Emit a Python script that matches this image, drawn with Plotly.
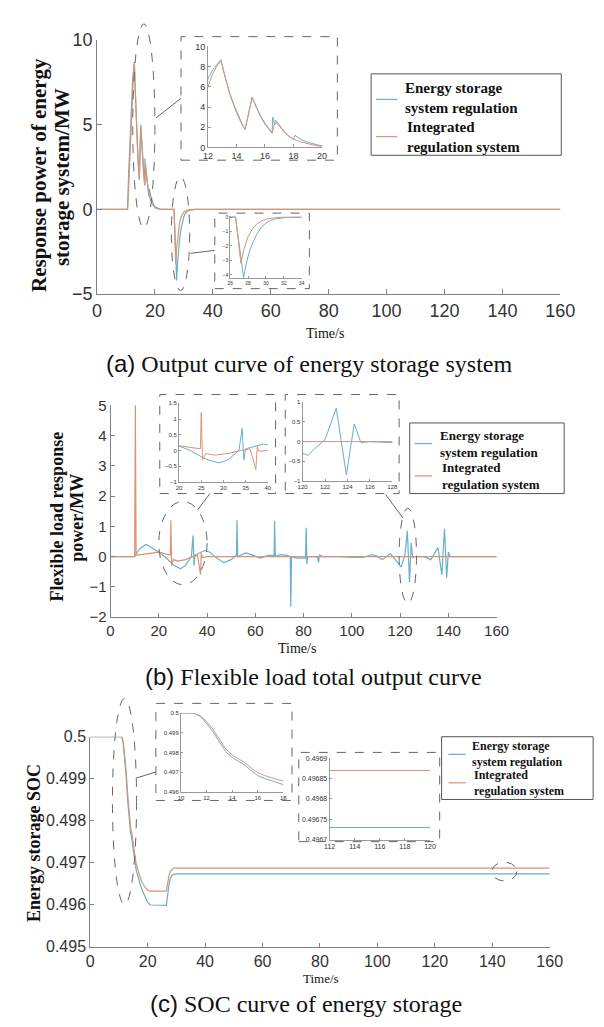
import plotly.graph_objects as go

W, H = 604, 1027
BLUE = "#66afd0"
ORANGE = "#d99470"
SANS = "Liberation Sans"
SERIF = "Liberation Serif"

# ---------------- data ----------------
# (a) energy storage response power (MW)
t_a_ess = [0, 10.5, 11.0, 11.5, 12.0, 12.3, 12.6, 12.9, 13.2, 13.5, 13.8, 14.1, 14.4, 14.6, 15.1, 15.4, 15.7,
           16.0, 16.3, 16.5, 16.55, 16.68, 16.8, 17.1, 17.4, 17.7, 18.0, 18.1, 18.5, 19.0, 19.5, 20.0, 21.0,
           22.0, 26.6, 27.5, 27.8, 28.1, 28.5, 29.0, 29.5, 30.0, 30.5, 31.0, 32.0, 33.0, 34.0, 160]
p_a_ess = [0, 0, 2.4, 4.7, 6.8, 7.6, 8.2, 8.7, 7.0, 5.5, 4.3, 3.2, 2.3, 1.75, 5.0, 4.0, 3.1,
           2.4, 1.8, 1.45, 3.0, 2.3, 2.45, 1.9, 1.45, 1.1, 0.8, 1.2, 0.8, 0.5, 0.3, 0.15, 0.05,
           0, 0, -4.2, -3.2, -2.5, -1.8, -1.15, -0.7, -0.42, -0.25, -0.14, -0.05, -0.02, 0, 0]
t_a_int = [0, 10.6, 11.0, 11.5, 12.0, 12.3, 12.6, 12.9, 13.2, 13.5, 13.8, 14.1, 14.4, 14.6, 15.1, 15.4, 15.7,
           16.0, 16.3, 16.5, 16.75, 17.1, 17.4, 17.7, 18.0, 18.5, 19.0, 19.5, 20.0, 21.0, 22.0, 26.6,
           27.2, 27.5, 28.0, 28.5, 29.0, 29.5, 30.0, 31.0, 32.0, 34.0, 160]
p_a_int = [0, 0, 1.6, 3.9, 6.0, 7.2, 8.0, 8.6, 6.9, 5.4, 4.2, 3.1, 2.25, 1.8, 4.9, 3.9, 3.0,
           2.3, 1.75, 1.4, 2.7, 2.0, 1.5, 1.1, 0.8, 0.55, 0.35, 0.2, 0.1, 0.03, 0, 0,
           -3.2, -2.3, -1.35, -0.8, -0.47, -0.27, -0.15, -0.05, -0.015, 0, 0]

# (b) flexible load response power (MW)
t_b_ess = [0, 10.0, 12, 14.7, 17, 20, 22.5, 26, 29, 31, 33.5, 34.2, 34.6, 35.0, 37, 39, 41, 44, 47, 50,
           52.2, 52.4, 52.7, 54, 56, 59, 62, 65, 67.8, 68.0, 68.3, 70, 73, 74.5, 74.7, 75.0, 77, 80.8,
           81.1, 81.4, 81.7, 84, 85.8, 86.2, 86.6, 88, 95, 100, 105, 108, 110, 112.7, 116, 120, 120.5,
           121, 122, 123, 123.9, 124.6, 125.2, 126, 128, 130, 132.7, 135.7, 137.3, 138.4, 139.3, 140,
           140.7, 160]
f_b_ess = [0, 0, 0.25, 0.4, 0.3, 0.13, 0.0, -0.28, -0.4, -0.3, 0.0, 0.7, -0.3, 0.05, 0.12, 0.2, 0.15,
           -0.05, -0.2, -0.1, 0.05, 1.2, 0.0, 0.05, 0.12, 0.05, -0.05, 0.03, 0.05, 1.18, 0.0, 0.06, 0.05,
           0.0, -1.66, 0.0, -0.05, -0.05, 0.95, -0.25, 0.0, 0.0, -0.02, -0.2, 0.05, 0.0, 0.0, -0.03,
           -0.02, 0.06, 0.03, -0.1, 0.1, -0.3, -0.35, -0.2, 0.05, 0.85, -0.85, 0.45, -0.03, 0.0, 0.0,
           0.0, -0.1, 0.3, -0.6, 0.92, -0.7, 0.15, 0.0, 0.0]
t_b_int = [0, 10.0, 10.3, 10.6, 11.0, 15, 20, 24.8, 25.0, 25.3, 26, 28, 31, 34, 36, 37.3, 37.6, 38, 40, 160]
f_b_int = [0, 0, 5.0, 0.05, 0.05, 0.1, 0.15, 0.05, 1.2, -0.3, -0.1, -0.15, -0.1, 0.0, 0.05, -0.6, 0.12,
           -0.03, 0, 0]

# (c) energy storage SOC
t_c = [0, 11.0, 11.5, 12.0, 12.5, 13.0, 13.5, 14.0, 14.5, 15.0, 15.5, 16.0, 16.5, 17.0, 17.5, 18.0,
       19.0, 20.0, 21.0, 26.5, 27.0, 27.5, 28.0, 28.5, 29.0, 30.0, 160]
soc_ess = [0.5, 0.5, 0.49984, 0.49948, 0.49905, 0.49852, 0.49804, 0.49774, 0.49755, 0.49735, 0.49706,
           0.49682, 0.49668, 0.49656, 0.49646, 0.49636, 0.49620, 0.49605, 0.49599, 0.49598, 0.49625,
           0.49652, 0.49664, 0.49670, 0.49672, 0.49673, 0.49673]
soc_int = [0.5, 0.5, 0.49988, 0.49958, 0.49918, 0.49866, 0.49818, 0.49787, 0.49768, 0.49748, 0.49720,
           0.49697, 0.49683, 0.49671, 0.49662, 0.49654, 0.49642, 0.49634, 0.49632, 0.49632, 0.49655,
           0.49672, 0.49680, 0.49685, 0.49687, 0.49687, 0.49687]

names = ["Energy storage system regulation", "Integrated regulation system"]

# ---------------- helpers ----------------
def X(px):
    return px / W

def Y(py):
    return 1 - py / H

fig = go.Figure()
layout = {}

def add_axes(i, xpx, ypx, xr, yr, xt, yt, fs, ticklen=4, yticktext=None, lc="#808080"):
    sx = "" if i == 1 else str(i)
    common = dict(showline=True, linecolor=lc, linewidth=1, ticks="inside", ticklen=ticklen, tickcolor=lc,
                  showgrid=False, zeroline=False, mirror=False, fixedrange=True,
                  tickfont=dict(family=SANS, size=fs, color="#333"))
    xa = dict(domain=[X(xpx[0]), X(xpx[1])], range=xr, anchor="y" + sx, tickvals=xt, **common)
    ya = dict(domain=[Y(ypx[0]), Y(ypx[1])], range=yr, anchor="x" + sx, tickvals=yt, **common)
    if yticktext is not None:
        ya["ticktext"] = yticktext
    layout["xaxis" + sx] = xa
    layout["yaxis" + sx] = ya
    return "x" + sx, "y" + sx

def add_pair(xa, ya, t1, v1, t2, v2, w=1.2):
    fig.add_trace(go.Scatter(x=t1, y=v1, mode="lines", line=dict(color=BLUE, width=w), name=names[0],
                             xaxis=xa, yaxis=ya, showlegend=False, hoverinfo="skip"))
    fig.add_trace(go.Scatter(x=t2, y=v2, mode="lines", line=dict(color=ORANGE, width=w), name=names[1],
                             xaxis=xa, yaxis=ya, showlegend=False, hoverinfo="skip"))

xticks_main = [0, 20, 40, 60, 80, 100, 120, 140, 160]

# (a) main
xa, ya = add_axes(1, (86, 566), (281.5, 22.5), [0, 160], [-5, 10], xticks_main, [-5, 0, 5, 10], 18, ticklen=5)
add_pair(xa, ya, t_a_ess, p_a_ess, t_a_int, p_a_int)
# (a) inset 1
xa, ya = add_axes(2, (201, 319), (132, 29), [12, 20], [0, 10], [12, 14, 16, 18, 20], [0, 2, 4, 6, 8, 10], 9,
                  ticklen=3, lc="#999")
add_pair(xa, ya, t_a_ess, p_a_ess, t_a_int, p_a_int, w=1)
# (a) inset 2
xa, ya = add_axes(3, (224, 298), (265, 201.5), [26, 34], [-4.2, 0.1], [26, 28, 30, 32, 34], [-4, -3, -2, -1, 0],
                  5, ticklen=2, lc="#999")
add_pair(xa, ya, t_a_ess, p_a_ess, t_a_int, p_a_int, w=1)

# (b) main
xa, ya = add_axes(4, (100, 500), (611, 395), [0, 160], [-2, 5], xticks_main, list(range(-2, 6)), 15, ticklen=4)
add_pair(xa, ya, t_b_ess, f_b_ess, t_b_int, f_b_int)
# (b) inset 1
xa, ya = add_axes(5, (171, 263), (473, 393), [20, 40], [-1, 1.5], [20, 25, 30, 35, 40],
                  [-1, -0.5, 0, 0.5, 1, 1.5], 6, ticklen=2, lc="#999")
add_pair(xa, ya, t_b_ess, f_b_ess, t_b_int, f_b_int, w=1)
# (b) inset 2
xa, ya = add_axes(6, (299, 392), (472, 392), [120, 128], [-1, 1], [120, 122, 124, 126, 128],
                  [-1, -0.5, 0, 0.5, 1], 6, ticklen=2, lc="#999")
add_pair(xa, ya, t_b_ess, f_b_ess, t_b_int, f_b_int, w=1)

# (c) main
xa, ya = add_axes(7, (79, 555), (947, 733), [0, 160], [0.495, 0.5], xticks_main,
                  [0.495, 0.496, 0.497, 0.498, 0.499, 0.5], 16, ticklen=4,
                  yticktext=["0.495", "0.496", "0.497", "0.498", "0.499", "0.5"])
add_pair(xa, ya, t_c, soc_ess, t_c, soc_int)
# (c) inset 1
xa, ya = add_axes(8, (173, 279), (789, 709), [10, 18], [0.496, 0.5], [10, 12, 14, 16, 18],
                  [0.496, 0.497, 0.498, 0.499, 0.5], 6, ticklen=2, lc="#999",
                  yticktext=["0.496", "0.497", "0.498", "0.499", "0.5"])
add_pair(xa, ya, t_c, soc_ess, t_c, soc_int, w=1)
# (c) inset 2
xa, ya = add_axes(9, (327, 431), (838, 755), [112, 120], [0.4967, 0.4969], [112, 114, 116, 118, 120],
                  [0.4967, 0.49675, 0.4968, 0.49685, 0.4969], 7, ticklen=2, lc="#999",
                  yticktext=["0.4967", "0.49675", "0.4968", "0.49685", "0.4969"])
add_pair(xa, ya, t_c, soc_ess, t_c, soc_int, w=1)

# ---------------- decorations ----------------
shapes = []
DASH = dict(color="#666", width=1, dash="dash")

def rect(x0, y0, x1, y1, line):
    shapes.append(dict(type="rect", xref="paper", yref="paper", x0=X(x0), x1=X(x1), y0=Y(y1), y1=Y(y0),
                       line=line, fillcolor="rgba(0,0,0,0)", layer="above"))

def ell(x0, y0, x1, y1):
    shapes.append(dict(type="circle", xref="paper", yref="paper", x0=X(x0), x1=X(x1), y0=Y(y1), y1=Y(y0),
                       line=DASH, layer="above"))

def seg(x0, y0, x1, y1, color="#666", width=1):
    shapes.append(dict(type="line", xref="paper", yref="paper", x0=X(x0), x1=X(x1), y0=Y(y0), y1=Y(y1),
                       line=dict(color=color, width=width), layer="above"))

# inset frames
rect(173, 19, 335, 145, DASH)
rect(208, 199, 306, 276, DASH)
rect(151, 384, 271, 485, DASH)
rect(281, 384, 399, 485, DASH)
rect(147, 699, 288, 798, DASH)
rect(295, 749, 441, 840, DASH)
# ellipses
ell(123, 6, 146, 214)
ell(163, 162, 182, 278)
ell(150, 493, 200, 578)
ell(399, 500, 417, 597)
ell(102, 694, 127, 904)
ell(495, 861, 521, 880)
# connectors
seg(147, 102, 173, 82)
seg(183, 240, 208, 237)
seg(190, 502, 203, 485)
seg(385, 486, 403, 510)
seg(127, 775, 147, 769)

annotations = []

def txt(x, y, s, size, family=SERIF, color="#111", angle=0, xanchor="center", bold=False, align="center"):
    if bold:
        s = "<b>" + s + "</b>"
    annotations.append(dict(x=X(x), y=Y(y), xref="paper", yref="paper", text=s, showarrow=False,
                            font=dict(family=family, size=size, color=color), textangle=angle,
                            xanchor=xanchor, yanchor="middle", align=align))

# legends (drawn as boxed keys)
def legend(box, lines_y, lx, entries, size):
    rect(box[0], box[1], box[2], box[3], dict(color="#555", width=1))
    seg(lx[0], lines_y[0], lx[1], lines_y[0], color=BLUE, width=1.2)
    seg(lx[0], lines_y[1], lx[1], lines_y[1], color=ORANGE, width=1.2)
    for (x, y, s) in entries:
        txt(x, y, s, size, xanchor="left", bold=True, align="left")

legend((370, 57, 567, 140), (83, 121), (375, 397),
       [(403, 82, "Energy storage<br>system regulation"),
        (405, 121, "Integrated<br>regulation system")], 15)
legend((410, 413, 570, 485), (434, 467), (415, 433),
       [(439, 434, "Energy storage<br>system regulation"),
        (441, 467, "Integrated<br>regulation system")], 13)
legend((443, 733, 600, 797), (751, 780), (450, 468),
       [(472, 751, "Energy storage<br>system regulation"),
        (474, 780, "Integrated<br>regulation system")], 12)

# axis titles
txt(26, 160, "Response power of energy", 21, angle=-90, bold=True)
txt(50, 162, "storage system/MW", 21, angle=-90, bold=True)
txt(45, 508, "Flexible load response", 18, angle=-90, bold=True)
txt(65, 510, "power/MW", 18, angle=-90, bold=True)
txt(20, 841, "Energy storage SOC", 18, angle=-90, bold=True)
txt(322, 322, "Time/s", 14)
txt(293, 643, "Time/s", 14)
txt(318, 980, "Time/s", 13)

# captions
def cap(x, y, letter, s):
    t = "<span style='font-family:Liberation Sans'>(" + letter + ")</span> " + s
    txt(x, y, t, 24)

cap(306, 352, "a", "Output curve of energy storage system")
cap(310, 672, "b", "Flexible load total output curve")
cap(302, 1005, "c", "SOC curve of energy storage")

layout.update(width=W, height=H, margin=dict(l=0, r=0, t=0, b=0), autosize=False,
              paper_bgcolor="white", plot_bgcolor="rgba(0,0,0,0)", showlegend=False,
              shapes=shapes, annotations=annotations)
fig.update_layout(**layout)
fig.write_html("out.html")
